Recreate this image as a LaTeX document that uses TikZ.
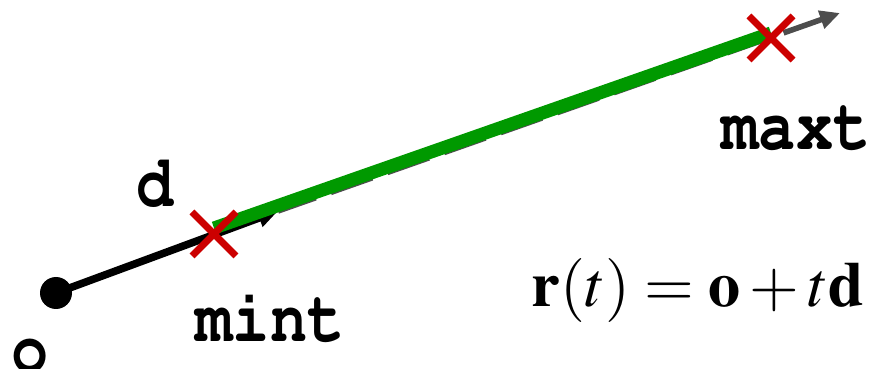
\documentclass[tikz,border=0pt]{standalone}
\usepackage[T1]{fontenc}
\usepackage{mathptmx}
\usepackage{courier}
\usepackage{graphicx}
\usepackage{tikz}
\usetikzlibrary{arrows.meta,positioning,calc}
\definecolor{raygreen}{RGB}{0, 153, 0}
\definecolor{crossred}{RGB}{204, 0, 0}
\definecolor{raygray}{RGB}{77, 77, 77}

\newcommand{\codelbl}[1]{\scalebox{1}[1.2]{#1}}

\tikzset{
    lbl/.style={font=\fontsize{31}{31}\selectfont\ttfamily\bfseries, anchor=base, inner sep=0pt},
    crossmark/.style={line width=3.5pt, color=crossred}
}

\begin{document}
\begin{tikzpicture}[x=0.5pt, y=-0.5pt, >={Triangle[length=10pt,width=9pt]}]
    \useasboundingbox (0,0) rectangle (875,369);

    % Origin and ray points
    \coordinate (O) at (56,293);
    \coordinate (Tmin) at (214,234);
    \coordinate (Dtip) at (278,211);
    \coordinate (Tmax) at (771,38);
    \coordinate (Rend) at (840,13);

    % Dashed ray
    \draw[line width=2.8pt, dash pattern=on 22pt off 8pt, dash phase=2pt, color=raygray, ->] (Dtip) -- (Rend);

    % Direction vector d
    \draw[line width=3.8pt, ->] (O) -- (Dtip);
    \fill (O) circle (8pt);

    % Segment between mint and maxt
    \draw[line width=6.5pt, color=raygreen] ($(Tmin)+(0,-6)$) -- ($(Tmax)+(0,-5)$);

    % Crosses
    \foreach \p in {Tmin,Tmax} {
        \draw[crossmark] ($(\p)+(-22,-22)$) -- ($(\p)+(22,22)$);
        \draw[crossmark] ($(\p)+(-22,22)$) -- ($(\p)+(22,-22)$);
    }

    % Labels
    \node[lbl] (olbl) at (30,373) {\codelbl{o}};
    \node[lbl] (dlbl) at (155,207) {\codelbl{d}};
    \node[lbl] (minlbl) at (270,342) {\codelbl{mint}};
    \node[lbl] (maxlbl) at (796,150) {\codelbl{maxt}};
    \node[font=\fontsize{32}{32}\selectfont, anchor=base, inner sep=0pt] (eqn) at (698,307)
        {$\mathbf{r}(t) = \mathbf{o} + t\mathbf{d}$};
\end{tikzpicture}
\end{document}
